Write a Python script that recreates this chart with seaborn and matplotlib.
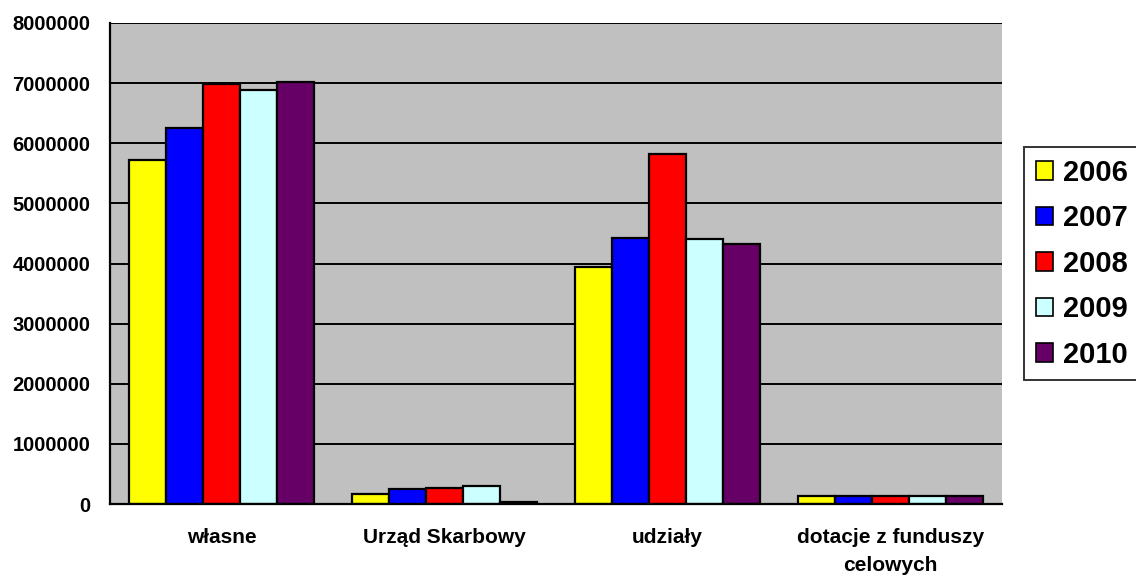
import seaborn as sns
import matplotlib.pyplot as plt
import pandas as pd
from matplotlib.ticker import FixedLocator

categories = ["własne", "Urząd Skarbowy", "udziały", "dotacje z funduszy\ncelowych"]
years = ["2006", "2007", "2008", "2009", "2010"]
values_2006 = [5720000, 170000, 3950000, 140000]
values_2007 = [6250000, 255000, 4430000, 140000]
values_2008 = [6990000, 270000, 5820000, 140000]
values_2009 = [6880000, 300000, 4410000, 140000]
values_2010 = [7020000, 30000, 4320000, 135000]
colors = ["#FFFF00", "#0000FF", "#FF0000", "#CCFFFF", "#660066"]

series = [values_2006, values_2007, values_2008, values_2009, values_2010]
rows = []
for year, vals in zip(years, series):
    for cat, v in zip(categories, vals):
        rows.append({"kategoria": cat, "rok": year, "wartosc": v})
df = pd.DataFrame(rows)

sns.set_style("white")
plt.rcParams["font.family"] = ["Liberation Sans", "DejaVu Sans"]
plt.rcParams["font.weight"] = "bold"
plt.rcParams["text.color"] = "black"
plt.rcParams["xtick.color"] = "black"
plt.rcParams["ytick.color"] = "black"

fig = plt.figure(figsize=(11.36, 5.75), dpi=100)
ax = fig.add_axes([110 / 1136, 71 / 575, 892 / 1136, 481 / 575])
ax.set_facecolor("#C0C0C0")

sns.barplot(data=df, x="kategoria", y="wartosc", hue="rok", order=categories,
            hue_order=years, palette=colors, saturation=1, width=0.83,
            edgecolor="black", linewidth=1.6, ax=ax, legend=False)

ax.set_ylim(0, 8000000)
ax.set_xlim(-0.5, 3.5)
ax.set_yticks(range(0, 8000001, 1000000))
ax.set_yticklabels([str(v) for v in range(0, 8000001, 1000000)], fontsize=14.5, fontweight="bold")
ax.yaxis.grid(True, color="black", linewidth=1.4)
ax.set_axisbelow(True)
ax.set_xlabel("")
ax.set_ylabel("")

# category labels without ticks, tick marks between groups
ax.set_xticks(range(len(categories)))
ax.set_xticklabels(categories, fontsize=15, fontweight="bold", linespacing=1.6)
ax.tick_params(axis="x", which="major", length=0, pad=17)
ax.xaxis.set_minor_locator(FixedLocator([-0.5, 0.5, 1.5, 2.5, 3.5]))
ax.tick_params(axis="x", which="minor", length=7, width=1.4, color="black", direction="out")
ax.tick_params(axis="y", length=6, width=1.4, color="black", direction="out", pad=8)

for side in ["top", "right"]:
    ax.spines[side].set_visible(False)
for side in ["left", "bottom"]:
    ax.spines[side].set_color("black")
    ax.spines[side].set_linewidth(1.6)

handles = [plt.Rectangle((0, 0), 1, 1, facecolor=c, edgecolor="black", linewidth=1.2) for c in colors]
leg = fig.legend(handles, years, loc="upper left", bbox_to_anchor=(1024 / 1136, 1 - 147 / 575),
                 prop={"size": 21, "weight": "bold"}, handlelength=0.6, handleheight=0.6,
                 handletextpad=0.35, labelspacing=0.6, borderpad=0.4, borderaxespad=0,
                 fancybox=False, frameon=True)
leg.get_frame().set_edgecolor("black")
leg.get_frame().set_linewidth(1.4)

fig.savefig("out.png", dpi=100)
